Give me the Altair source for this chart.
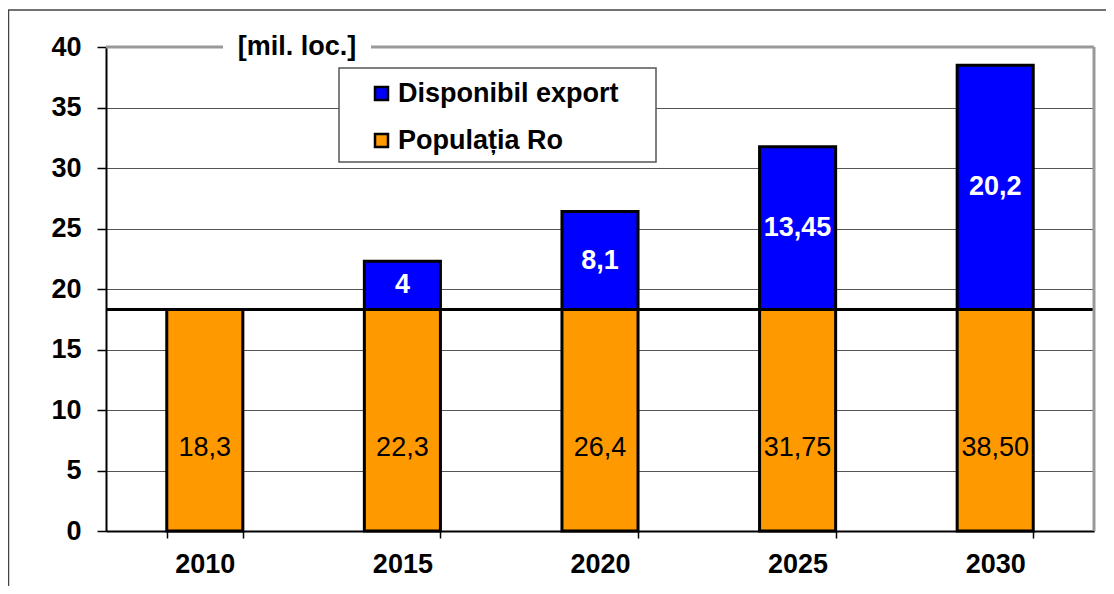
import altair as alt
import pandas as pd

# ---- data ----
years = ["2010", "2015", "2020", "2025", "2030"]
populatie = [18.3, 18.3, 18.3, 18.3, 18.3]
export = [0, 4, 8.1, 13.45, 20.2]
label_total = ["18,3", "22,3", "26,4", "31,75", "38,50"]
label_export = ["", "4", "8,1", "13,45", "20,2"]
series = ["Disponibil export", "Populația Ro"]
colors = ["#0000FF", "#FF9900"]
y_ticks = [0, 5, 10, 15, 20, 25, 30, 35, 40]
unit_label = "[mil. loc.]"
baseline_value = 18.3

# ---- layout / style ----
W, H = 988, 484
FONT = "Liberation Sans"
FS = 27
ORANGE_LABEL_Y = 6.9

rows = []
for yr, p, e, lt, le in zip(years, populatie, export, label_total, label_export):
    rows.append({"year": yr, "series": series[1], "start": 0, "end": p,
                 "label": lt, "ly": ORANGE_LABEL_Y})
    if e > 0:
        rows.append({"year": yr, "series": series[0], "start": p, "end": p + e,
                     "label": le, "ly": p + e / 2})
df = pd.DataFrame(rows)

xscale = alt.Scale(domain=years, paddingInner=0.615, paddingOuter=0.3075)
yscale = alt.Scale(domain=[0, 40], nice=False)

x_enc = alt.X("year:N", scale=xscale, sort=years,
              axis=alt.Axis(title=None, labelAngle=0, tickBand="extent",
                            domainColor="black", domainWidth=2,
                            tickColor="black", tickWidth=1.5, tickSize=7,
                            labelFont=FONT, labelFontSize=FS, labelFontWeight="bold",
                            labelColor="black", labelPadding=13, grid=False))

bars = alt.Chart(df).mark_bar(stroke="black", strokeWidth=3).encode(
    x=x_enc,
    y=alt.Y("start:Q", scale=yscale,
            axis=alt.Axis(title=None, values=y_ticks, grid=True, gridColor="#555555",
                          gridWidth=1, domainColor="black", domainWidth=2,
                          tickColor="black", tickWidth=1.5, tickSize=9,
                          labelFont=FONT, labelFontSize=FS, labelFontWeight="bold",
                          labelColor="black", labelPadding=16)),
    y2="end:Q",
    color=alt.Color("series:N",
                    scale=alt.Scale(domain=series, range=colors),
                    sort=series,
                    legend=alt.Legend(title=None, orient="none", legendX=262, legendY=33,
                                      symbolType="square", symbolSize=169,
                                      symbolStrokeColor="black", symbolStrokeWidth=2.5,
                                      symbolOpacity=1,
                                      labelFont=FONT, labelFontSize=FS, labelFontWeight="bold",
                                      labelColor="black", labelOffset=3, rowPadding=19,
                                      padding=0, labelLimit=400)),
)

base_rule = alt.Chart(pd.DataFrame({"v": [baseline_value]})).mark_rule(
    color="black", strokeWidth=3).encode(y=alt.Y("v:Q", scale=yscale))

lbl_orange = alt.Chart(df[df.series == series[1]]).mark_text(
    font=FONT, fontSize=FS, color="black", baseline="middle").encode(
    x=alt.X("year:N", scale=xscale, sort=years),
    y=alt.Y("ly:Q", scale=yscale), text="label:N")

lbl_blue = alt.Chart(df[df.series == series[0]]).mark_text(
    font=FONT, fontSize=FS, fontWeight="bold", color="white", baseline="middle").encode(
    x=alt.X("year:N", scale=xscale, sort=years),
    y=alt.Y("ly:Q", scale=yscale), text="label:N")

one = pd.DataFrame({"a": [0]})

# plot-area border (top & right, grey)
top_border = alt.Chart(one).mark_rule(color="#999999", strokeWidth=3).encode(
    x=alt.value(0), x2=alt.value(W), y=alt.value(0))
right_border = alt.Chart(one).mark_rule(color="#999999", strokeWidth=3).encode(
    x=alt.value(W), y=alt.value(0), y2=alt.value(H))

# outer chart frame
frame = alt.Chart(one).mark_rect(fillOpacity=0, stroke="#444444", strokeWidth=1.5).encode(
    x=alt.value(-97.5), x2=alt.value(1200), y=alt.value(-37), y2=alt.value(700))

# unit label with white background
unit_bg = alt.Chart(one).mark_rect(color="white").encode(
    x=alt.value(117), x2=alt.value(265), y=alt.value(-15), y2=alt.value(15))
unit_txt = alt.Chart(pd.DataFrame({"t": [unit_label]})).mark_text(
    font=FONT, fontSize=FS, fontWeight="bold", color="black", baseline="middle").encode(
    x=alt.value(191), y=alt.value(0), text="t:N")

# legend box
legend_box = alt.Chart(one).mark_rect(color="white", stroke="#555555", strokeWidth=1.5).encode(
    x=alt.value(233), x2=alt.value(550), y=alt.value(21), y2=alt.value(115))

chart = alt.layer(
    frame, legend_box, bars, base_rule, lbl_orange, lbl_blue,
    top_border, right_border, unit_bg, unit_txt
).properties(
    width=W, height=H,
    padding={"left": 98, "top": 39, "right": 12, "bottom": 55},
    autosize=alt.AutoSizeParams(type="none"),
).configure_view(stroke=None).configure(background="white")

chart.save("out.html", embed_options={"renderer": "svg", "actions": False})
